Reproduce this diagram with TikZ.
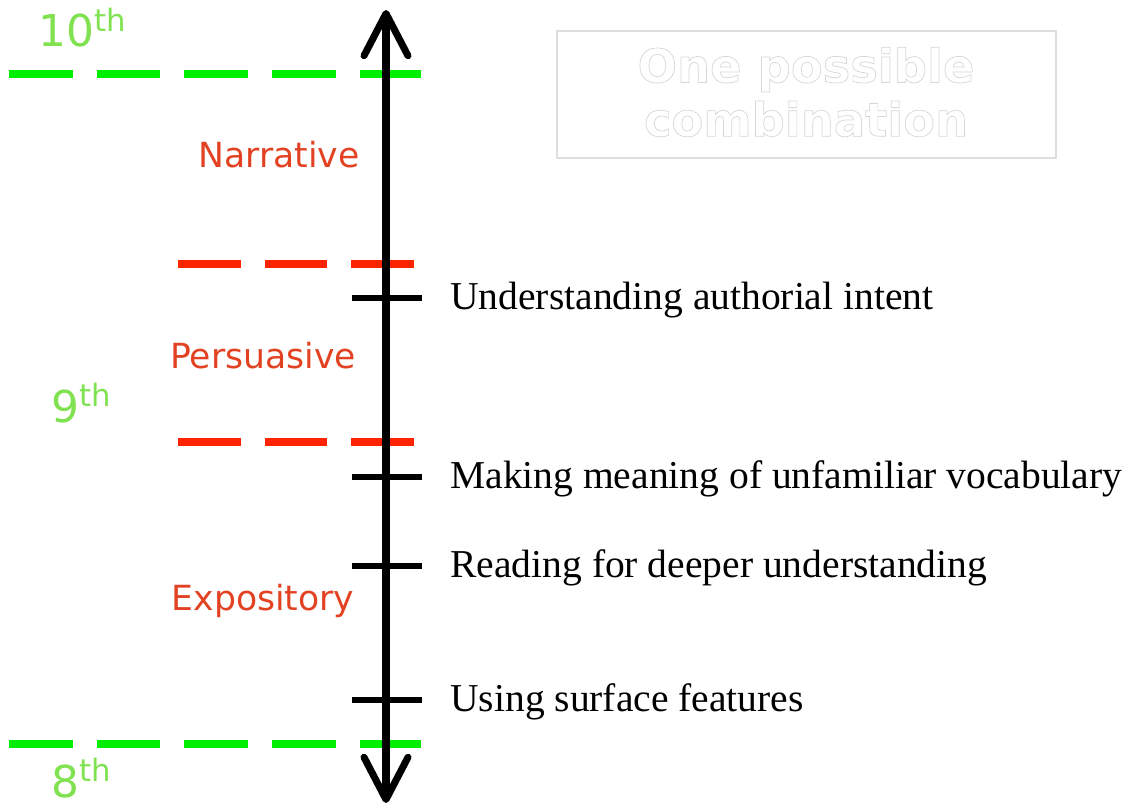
\documentclass[tikz,border=0pt]{standalone}
\usepackage{fontspec}
\setmainfont{Liberation Serif}
\newfontfamily\labelfont{DejaVu Sans}
\usepackage{tikz}
\usetikzlibrary{arrows.meta,positioning}

\definecolor{gradegreen}{RGB}{0,238,0}
\definecolor{gradetext}{RGB}{128,226,80}
\definecolor{genreline}{RGB}{255,36,0}
\definecolor{genretext}{RGB}{226,66,34}
\definecolor{boxgray}{RGB}{222,222,222}

% white letters with a thin gray outline
\newcommand{\outlined}[1]{{\color{white}\special{pdf:literal direct 0.84 G 0.4 w 2 Tr}#1\special{pdf:literal direct 0 Tr}}}

\begin{document}
\begin{tikzpicture}[x=0.02cm,y=-0.02cm,
	axis/.style={line width=4pt,line cap=round,{Straight Barb[length=24pt,width=25pt,line width=4pt,round]}-{Straight Barb[length=24pt,width=25pt,line width=4pt,round]}},
	gradeline/.style={draw=gradegreen,line width=4pt,dash pattern=on 36.3pt off 13.6pt},
	genreline/.style={draw=genreline,line width=4pt,dash pattern=on 35.7pt off 13.6pt},
	tick/.style={line width=3.4pt},
	skill/.style={anchor=west,inner sep=0pt,font=\fontsize{22.5}{26}\selectfont},
	genre/.style={anchor=base,inner sep=0pt,text=genretext,font=\labelfont\fontsize{19.7}{23}\selectfont},
	grade/.style={anchor=base,inner sep=0pt,text=gradetext,font=\labelfont\fontsize{25}{29}\selectfont}]
	\useasboundingbox (0,0) rectangle (1131,810);

	% grade boundaries
	\coordinate (g10a) at (9,74);
	\coordinate (g10b) at (421,74);
	\coordinate (g8a) at (9,744);
	\coordinate (g8b) at (421,744);
	\draw[gradeline] (g10a) -- (g10b);
	\draw[gradeline] (g8a) -- (g8b);

	% genre boundaries
	\coordinate (ra) at (178,264);
	\coordinate (rb) at (416,264);
	\coordinate (pa) at (178,442);
	\coordinate (pb) at (416,442);
	\draw[genreline] (ra) -- (rb);
	\draw[genreline] (pa) -- (pb);

	% axis
	\coordinate (top) at (386,10);
	\coordinate (bottom) at (386,803);
	\draw[axis] (bottom) -- (top);

	% skills
	\foreach \y/\name/\txt in {298/intent/Understanding authorial intent,
		477/vocab/Making meaning of unfamiliar vocabulary,
		566/deeper/Reading for deeper understanding,
		700/surface/Using surface features}{
		\coordinate (\name-l) at (352,\y);
		\coordinate (\name-r) at (422,\y);
		\draw[tick] (\name-l) -- (\name-r);
		\node[skill] (\name) at (450,\y+2) {\txt};
	}

	% genres
	\node[genre] (narrative) at (279,168) {Narrative};
	\node[genre] (persuasive) at (263,369) {Persuasive};
	\node[genre] (expository) at (263,610) {Expository};

	% grades
	\node[grade] (tenth) at (83,47) {10\textsuperscript{th}};
	\node[grade] (ninth) at (82,422) {9\textsuperscript{th}};
	\node[grade] (eighth) at (82,797) {8\textsuperscript{th}};

	% caption box
	\node[draw=boxgray,line width=0.9pt,anchor=north west,
		inner sep=0pt,minimum width=9.98cm,minimum height=2.54cm] (combo) at (556,30) {};
	\node[align=center,inner sep=0pt,font=\labelfont\bfseries\fontsize{26.4}{30.6}\selectfont]
		(combotext) at (806,92) {\outlined{One possible}\\ \outlined{combination}};
\end{tikzpicture}
\end{document}
